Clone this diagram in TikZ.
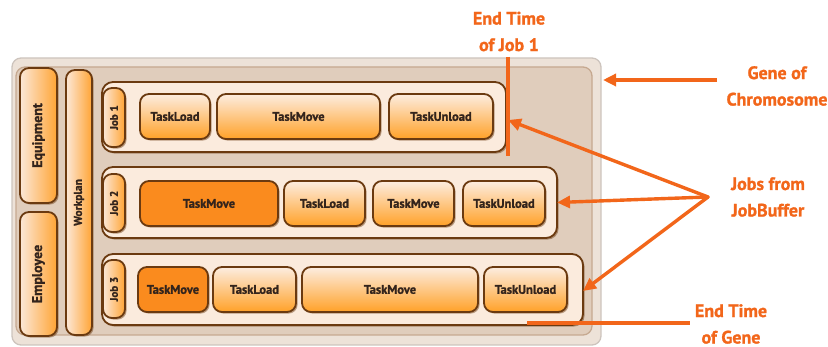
\documentclass[tikz,border=0pt]{standalone}
\usepackage{fontspec}
\usepackage{graphicx}
\setmainfont{PT Sans}[BoldFeatures={FakeBold=1.2}]
\usetikzlibrary{shadows,arrows.meta}

\definecolor{edge}{HTML}{6B3A10}
\definecolor{ink}{HTML}{33241C}
\definecolor{jobfill}{HTML}{FBEBDD}
\definecolor{tasktop}{HTML}{FDEDE0}
\definecolor{taskmid}{HTML}{FDD3AA}
\definecolor{taskbot}{HTML}{FFA128}
\definecolor{hotfill}{HTML}{FA8B1E}
\definecolor{sideleft}{HTML}{FCE8D8}
\definecolor{sideright}{HTML}{FFA434}
\definecolor{accent}{HTML}{F2661A}
\definecolor{geneouter}{HTML}{EDE2D8}
\definecolor{generim}{HTML}{CDC4BD}
\definecolor{geneinner}{HTML}{E0CDBC}
\definecolor{geneinrim}{HTML}{C6A990}

\tikzset{
  box/.style={draw=edge, line width=1.8pt, rounded corners=9pt, inner sep=0pt,
    outer sep=0pt, text=ink, font=\bfseries\fontsize{12.5}{13}\selectfont,
    drop shadow={shadow xshift=1.6pt, shadow yshift=-1.6pt, fill=edge, opacity=0.45}},
  task/.style={box, top color=tasktop, middle color=taskmid, bottom color=taskbot},
  hot/.style={box, fill=hotfill},
  side/.style={box, left color=sideleft, right color=sideright},
  joblabel/.style={side, minimum width=22pt, font=\bfseries\fontsize{11}{12}\selectfont},
  jobrow/.style={draw=edge, line width=1.8pt, rounded corners=11pt, fill=jobfill,
    inner sep=0pt, outer sep=0pt,
    drop shadow={shadow xshift=1.6pt, shadow yshift=-1.6pt, fill=edge, opacity=0.45}},
  note/.style={text=accent, font=\bfseries\fontsize{18}{26.5}\selectfont, align=center},
  ptr/.style={draw=accent, line width=3.4pt, -{Triangle[length=13pt,width=12pt]}},
  mark line/.style={draw=accent, line width=3.6pt},
}

\begin{document}
\begin{tikzpicture}[x=1pt, y=-1pt]
\useasboundingbox (0,0) rectangle (828,347);

% gene container
\node[draw=generim, line width=1.3pt, fill=geneouter, rounded corners=9pt,
      minimum width=589pt, minimum height=287pt, inner sep=0pt] (geneout) at (306.5,201.5) {};
\node[draw=geneinrim, line width=1.3pt, fill=geneinner, rounded corners=9pt,
      minimum width=576pt, minimum height=268pt, inner sep=0pt] (genein) at (304,201) {};

% resources
\node[side, minimum width=37pt, minimum height=135pt, font=\bfseries\fontsize{14}{15}\selectfont]
  (equip) at (38.5,135.5) {\rotatebox{90}{Equipment}};
\node[side, minimum width=37pt, minimum height=124pt, font=\bfseries\fontsize{14}{15}\selectfont]
  (emp) at (38.5,274) {\rotatebox{90}{Employee}};
\node[side, minimum width=26pt, minimum height=265pt, font=\bfseries\fontsize{11.5}{12}\selectfont]
  (wp) at (79,202.5) {\rotatebox{90}{Workplan}};

% job 1
\node[jobrow, minimum width=404pt, minimum height=70pt] (job1) at (304,117) {};
\node[joblabel, minimum height=59pt] (j1) at (114,117.5) {\rotatebox{90}{Job 1}};
\node[task, minimum width=70pt, minimum height=45pt] (j1a) at (175,116.5) {TaskLoad};
\node[task, minimum width=163pt, minimum height=45pt] (j1b) at (298.5,116.5) {TaskMove};
\node[task, minimum width=104pt, minimum height=45pt] (j1c) at (441,116.5) {TaskUnload};

% job 2
\node[jobrow, minimum width=455pt, minimum height=71pt] (job2) at (329.5,202.5) {};
\node[joblabel, minimum height=58pt] (j2) at (114,203) {\rotatebox{90}{Job 2}};
\node[hot, minimum width=138pt, minimum height=45pt] (j2a) at (209,203.5) {TaskMove};
\node[task, minimum width=81pt, minimum height=45pt] (j2b) at (324.5,203.5) {TaskLoad};
\node[task, minimum width=81pt, minimum height=45pt] (j2c) at (413.5,203.5) {TaskMove};
\node[task, minimum width=82pt, minimum height=45pt] (j2d) at (504,203.5) {TaskUnload};

% job 3
\node[jobrow, minimum width=481pt, minimum height=71pt] (job3) at (342.5,289.5) {};
\node[joblabel, minimum height=58pt] (j3) at (114,289) {\rotatebox{90}{Job 3}};
\node[hot, minimum width=70pt, minimum height=45pt] (j3a) at (173,289.5) {TaskMove};
\node[task, minimum width=83pt, minimum height=45pt] (j3b) at (254.5,289.5) {TaskLoad};
\node[task, minimum width=176pt, minimum height=45pt] (j3c) at (390,289.5) {TaskMove};
\node[task, minimum width=83pt, minimum height=45pt] (j3d) at (525.5,289.5) {TaskUnload};

% annotations
\node[note] (endjob) at (509,31.5) {End Time\\of Job 1};
\node[note] (genenote) at (777,86) {Gene of\\Chromosome};
\node[note] (jobsnote) at (768,197) {Jobs from\\JobBuffer};
\node[note] (endgene) at (731,324) {End Time\\of Gene};

\coordinate (ejtop) at (508,57);
\coordinate (ejbot) at (508,156);
\coordinate (gtail) at (717,80);
\coordinate (ghead) at (603,80);
\coordinate (fork) at (708,197);
\coordinate (egl) at (527,323);
\coordinate (egr) at (690,323);

\draw[mark line] (ejtop) -- (ejbot);
\draw[mark line] (egl) -- (egr);
\draw[ptr] (gtail) -- (ghead);
\draw[ptr, line cap=round] (fork) -- ([xshift=2pt,yshift=-3pt]job1.east);
\draw[ptr, line cap=round] (fork) -- (job2.east);
\draw[ptr, line cap=round] (fork) -- ([yshift=-1.5pt]job3.east);
\end{tikzpicture}
\end{document}
